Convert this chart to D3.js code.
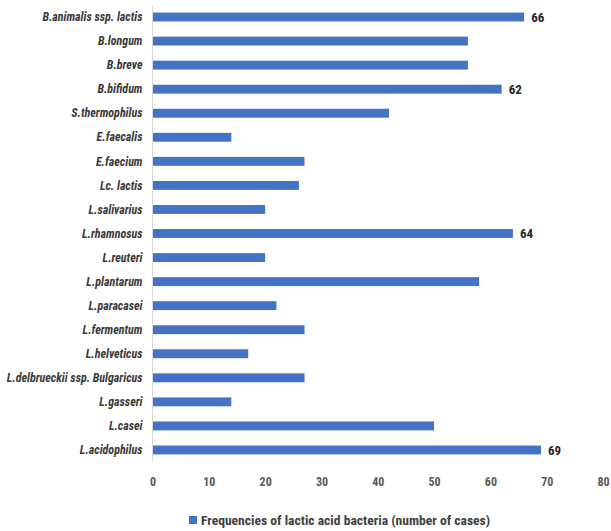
<!DOCTYPE html>
<html>
<head>
<meta charset="utf-8">
<script src="https://cdn.jsdelivr.net/npm/d3@7/dist/d3.min.js"></script>
<style>
  html, body { margin: 0; padding: 0; background: #fff; }
  svg { display: block; }
</style>
</head>
<body>
<svg id="chart" width="611" height="531"></svg>
<script>
// Species, top to bottom
const species = [
  "B.animalis ssp. lactis", "B.longum", "B.breve", "B.bifidum", "S.thermophilus",
  "E.faecalis", "E.faecium", "Lc. lactis", "L.salivarius", "L.rhamnosus",
  "L.reuteri", "L.plantarum", "L.paracasei", "L.fermentum", "L.helveticus",
  "L.delbrueckii ssp. Bulgaricus", "L.gasseri", "L.casei", "L.acidophilus"
];
// Number of cases per species
const cases = [66, 56, 56, 62, 42, 14, 27, 26, 20, 64, 20, 58, 22, 27, 17, 27, 14, 50, 69];
// Species whose count is printed beside the bar
const labelled = ["B.animalis ssp. lactis", "B.bifidum", "L.rhamnosus", "L.acidophilus"];
const xTicks = [0, 10, 20, 30, 40, 50, 60, 70, 80];
const seriesName = "Frequencies of lactic acid bacteria (number of cases)";

const svg = d3.select("#chart");
const plotL = 152.5, plotR = 603, plotT = 5, plotB = 462;
const barColor = "#4472C4";
const font = '"Liberation Sans Narrow", "Roboto Condensed", "Liberation Sans", sans-serif';

const x = d3.scaleLinear().domain([0, 80]).range([plotL, plotR]);
const y = d3.scaleBand().domain(species).range([plotT, plotB]).paddingInner(0.63).paddingOuter(0.315);

// category baseline
svg.append("line")
  .attr("x1", plotL).attr("x2", plotL)
  .attr("y1", plotT).attr("y2", plotB)
  .attr("stroke", "#d9d9d9").attr("stroke-width", 1);

// bars
svg.append("g").selectAll("rect")
  .data(species)
  .join("rect")
  .attr("x", x(0) + 0.5)
  .attr("y", d => y(d))
  .attr("width", (d, i) => x(cases[i]) - x(0) - 0.5)
  .attr("height", y.bandwidth())
  .attr("fill", barColor);

// category labels
svg.append("g").selectAll("text")
  .data(species)
  .join("text")
  .attr("x", plotL - 10)
  .attr("y", d => y(d) + y.bandwidth() / 2)
  .attr("dy", "0.35em")
  .attr("text-anchor", "end")
  .attr("font-family", font)
  .attr("font-style", "italic")
  .attr("font-weight", "bold")
  .attr("font-size", 12)
  .attr("fill", "#3a3a3a")
  .text(d => d);

// value labels
svg.append("g").selectAll("text")
  .data(species.filter(d => labelled.includes(d)))
  .join("text")
  .attr("x", d => x(cases[species.indexOf(d)]) + 7)
  .attr("y", d => y(d) + y.bandwidth() / 2)
  .attr("dy", "0.38em")
  .attr("font-family", font)
  .attr("font-weight", "bold")
  .attr("font-size", 13)
  .attr("fill", "#262626")
  .text(d => cases[species.indexOf(d)]);

// x axis ticks
const xAxis = d3.axisBottom(x).tickValues(xTicks).tickSize(0).tickPadding(0);
const gx = svg.append("g").attr("transform", "translate(0, 477)").call(xAxis);
gx.select(".domain").remove();
gx.selectAll("text")
  .attr("font-family", font)
  .attr("font-weight", "bold")
  .attr("font-size", 12)
  .attr("fill", "#595959");

// legend
const legend = svg.append("g").attr("transform", "translate(189, 520)");
legend.append("rect")
  .attr("x", 0).attr("y", -4).attr("width", 8).attr("height", 8)
  .attr("fill", barColor);
legend.append("text")
  .attr("x", 12).attr("y", 0).attr("dy", "0.38em")
  .attr("font-family", font)
  .attr("font-weight", "bold")
  .attr("font-size", 13.6)
  .attr("fill", "#404040")
  .text(seriesName);
</script>
</body>
</html>
